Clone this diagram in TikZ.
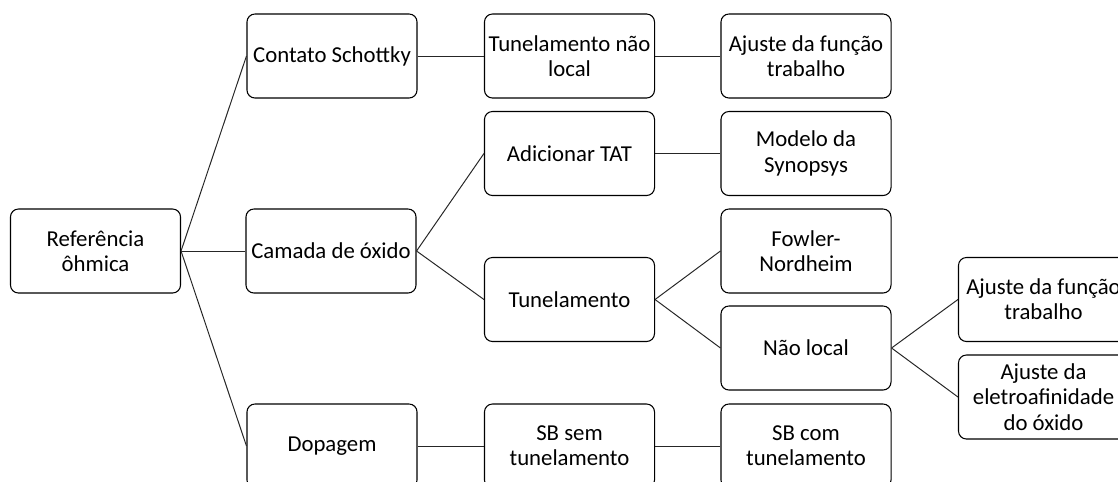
\documentclass[tikz,border=0pt]{standalone}
\usepackage{fontspec}
\setmainfont{Carlito}
\usepackage{tikz}

\begin{document}
\begin{tikzpicture}[x=0.025cm, y=-0.025cm,
    caixa/.style={draw=black, line width=0.75pt, rounded corners=0.2cm, fill=white,
        minimum width=4.25cm, minimum height=2.1cm, align=center, inner sep=2pt,
        font=\fontsize{16.2}{17.9}\selectfont},
    ligacao/.style={line width=0.7pt, draw=black!85}]
            \useasboundingbox (0,0) rectangle (1118,481);
            \clip (0,0) rectangle (1118,481);

            % Root
            \node[caixa] (ref) at (95.5,251) {Referência\\ôhmica};

            % Second level
            \node[caixa] (schottky) at (332,56) {Contato Schottky};
            \node[caixa] (oxido) at (331,251) {Camada de óxido};
            \node[caixa] (dopagem) at (332,446) {Dopagem};

            % Third level
            \node[caixa] (naolocal-1) at (569.5,56) {Tunelamento não\\local};
            \node[caixa] (tat) at (569.5,153.5) {Adicionar TAT};
            \node[caixa] (tunel) at (569.5,299.5) {Tunelamento};
            \node[caixa] (sbsem) at (569.5,446) {SB sem\\tunelamento};

            % Fourth level
            \node[caixa] (funcao-1) at (806,56) {Ajuste da função\\trabalho};
            \node[caixa] (synopsys) at (806,153.5) {Modelo da\\Synopsys};
            \node[caixa] (fowler) at (806,251) {Fowler-\\Nordheim};
            \node[caixa] (naolocal-2) at (806,348) {Não local};
            \node[caixa] (sbcom) at (806,446) {SB com\\tunelamento};

            % Fifth level
            \node[caixa] (funcao-2) at (1043.5,299.5) {Ajuste da função\\trabalho};
            \node[caixa] (afinidade) at (1043.5,397) {Ajuste da\\eletroafinidade\\do óxido};

            % Connections
            \draw[ligacao] (ref.east) -- (schottky.west);
            \draw[ligacao] (ref.east) -- (oxido.west);
            \draw[ligacao] (ref.east) -- (dopagem.west);
            \draw[ligacao] (schottky.east) -- (naolocal-1.west);
            \draw[ligacao] (naolocal-1.east) -- (funcao-1.west);
            \draw[ligacao] (oxido.east) -- (tat.west);
            \draw[ligacao] (oxido.east) -- (tunel.west);
            \draw[ligacao] (tat.east) -- (synopsys.west);
            \draw[ligacao] (tunel.east) -- (fowler.west);
            \draw[ligacao] (tunel.east) -- (naolocal-2.west);
            \draw[ligacao] (naolocal-2.east) -- (funcao-2.west);
            \draw[ligacao] (naolocal-2.east) -- (afinidade.west);
            \draw[ligacao] (dopagem.east) -- (sbsem.west);
            \draw[ligacao] (sbsem.east) -- (sbcom.west);
        \end{tikzpicture}
\end{document}
